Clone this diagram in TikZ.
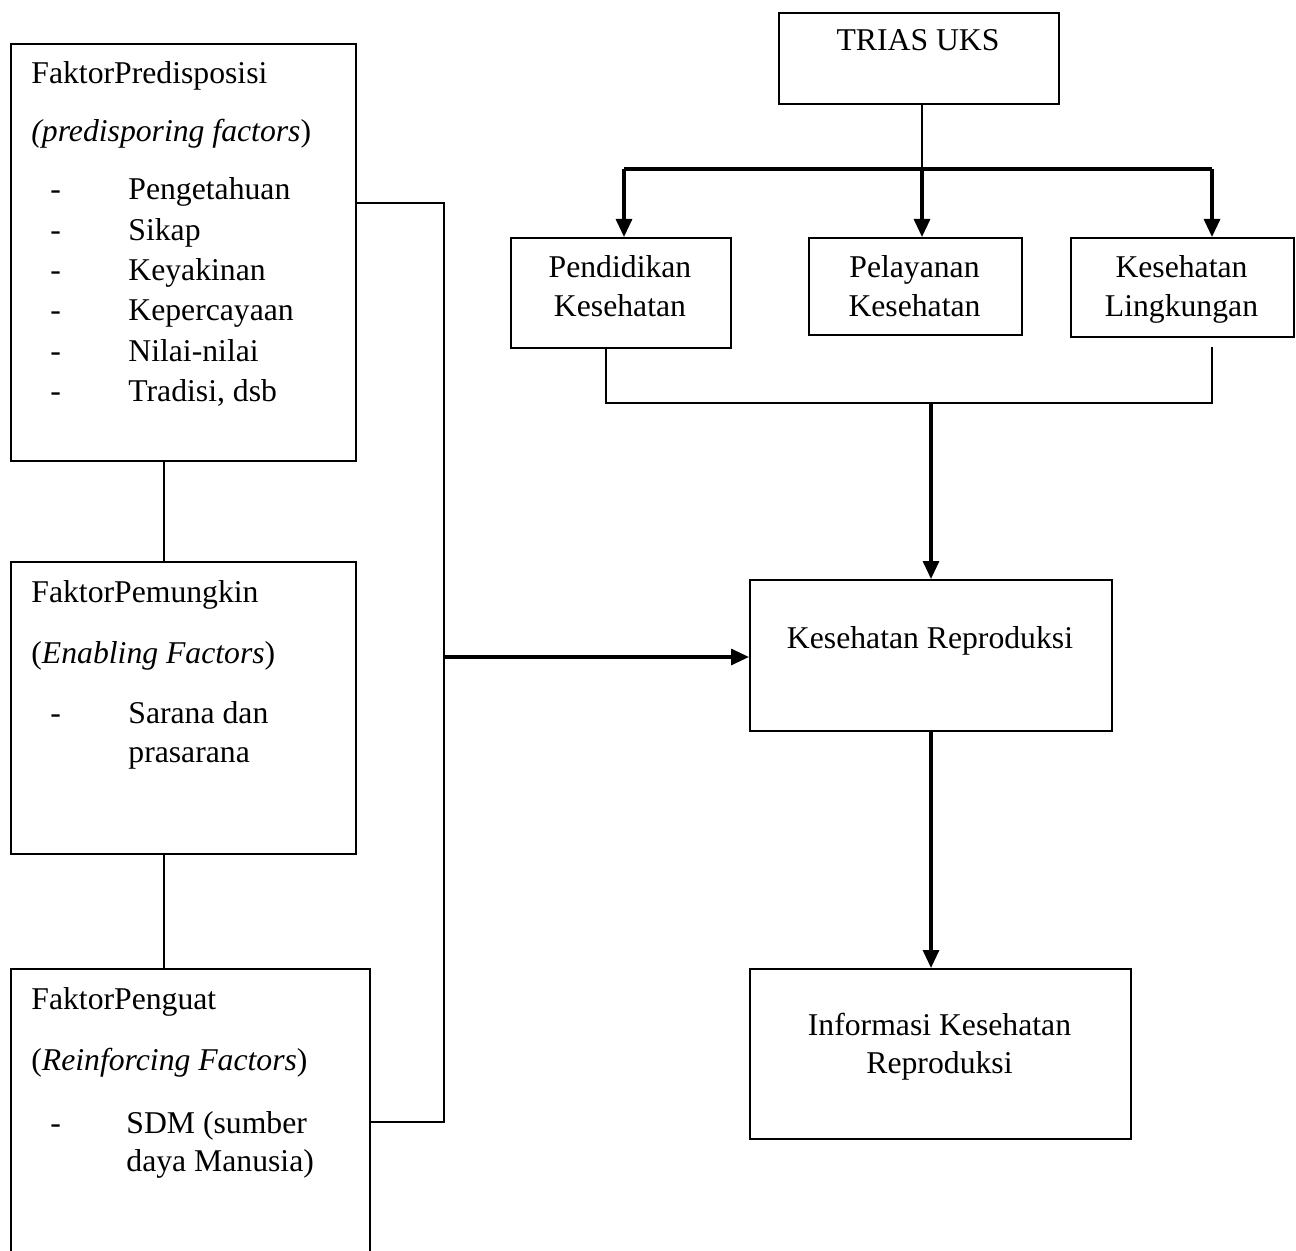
\documentclass[tikz,border=0pt]{standalone}
\usepackage{fontspec}
\setmainfont{Liberation Serif}
\usetikzlibrary{arrows.meta}
\begin{document}
\begin{tikzpicture}[x=0.5pt,y=-0.5pt,
  boxst/.style={draw,line width=1.1pt,anchor=north west,inner sep=0pt},
  txt/.style={inner sep=0pt,anchor=base west,font=\fontsize{15.85}{19}\selectfont},
  ctxt/.style={txt,anchor=base},
  conn/.style={line width=1.1pt},
  thick line/.style={line width=1.6pt},
  arr/.style={line width=1.6pt,-{Triangle[length=9pt,width=8pt]}}]
\clip (0,0) rectangle (1296,1251);
\newcommand\mybox[5]{\node[boxst,minimum width=#4*0.5pt,minimum height=#5*0.5pt] (#1) at (#2,#3) {};}
% boxes
\mybox{p1}{10}{43}{345}{417}
\mybox{p2}{10}{561}{345}{292}
\mybox{p3}{10}{968}{359}{330}
\mybox{trias}{778}{12}{280}{91}
\mybox{pend}{510}{237}{220}{110}
\mybox{pel}{808}{237}{213}{97}
\mybox{ling}{1070}{237}{223}{99}
\mybox{kr}{749}{579}{362}{151}
\mybox{info}{749}{968}{381}{170}
% box 1 text
\node[txt] (p1a) at (31,84) {FaktorPredisposisi};
\node[txt] (p1b) at (31,142) {\textit{(predisporing factors})};
\foreach \t/\y [count=\i] in {Pengetahuan/200,Sikap/241,Keyakinan/281,Kepercayaan/321,Nilai-nilai/362,{Tradisi, dsb}/402}{
  \node[txt] (p1d\i) at (50,\y) {-};
  \node[txt] (p1t\i) at (128,\y) {\t};
}
% box 2 text
\node[txt] (p2a) at (31,602) {FaktorPemungkin};
\node[txt] (p2b) at (31,663) {(\textit{Enabling Factors})};
\node[txt] (p2d) at (50,723) {-};
\node[txt] (p2c) at (128,723) {Sarana dan};
\node[txt] (p2e) at (128,762) {prasarana};
% box 3 text
\node[txt] (p3a) at (31,1009) {FaktorPenguat};
\node[txt] (p3b) at (31,1070) {(\textit{Reinforcing Factors})};
\node[txt] (p3d) at (50,1133) {-};
\node[txt] (p3c) at (126,1133) {SDM (sumber};
\node[txt] (p3e) at (126,1171) {daya Manusia)};
% right side text
\node[ctxt] (tt) at (918,51) {TRIAS UKS};
\node[ctxt] (pe1) at (620,278) {Pendidikan};
\node[ctxt] (pe2) at (620,317) {Kesehatan};
\node[ctxt] (pl1) at (914.5,278) {Pelayanan};
\node[ctxt] (pl2) at (914.5,317) {Kesehatan};
\node[ctxt] (li1) at (1181.5,278) {Kesehatan};
\node[ctxt] (li2) at (1181.5,317) {Lingkungan};
\node[ctxt] (krt) at (930,648) {Kesehatan Reproduksi};
\node[ctxt] (in1) at (939.5,1035) {Informasi Kesehatan};
\node[ctxt] (in2) at (939.5,1073) {Reproduksi};
% left connectors
\coordinate (v1) at (164,0);
\coordinate (j1) at (444,203);
\coordinate (j2) at (444,657);
\coordinate (j3) at (444,1122);
\draw[conn] (p1.south -| v1) -- (p2.north -| v1);
\draw[conn] (p2.south -| v1) -- (p3.north -| v1);
\draw[conn] (p1.east |- j1) -- (j1) -- (j3) -- (p3.east |- j3);
\draw[arr] (j2) -- (kr.west |- j2);
% TRIAS branches
\coordinate (a1) at (624,169);
\coordinate (a2) at (922,169);
\coordinate (a3) at (1212,169);
\draw[conn] (trias.south -| a2) -- (a2);
\draw[thick line] (a1) -- (a3);
\draw[arr] (a1) -- (pend.north -| a1);
\draw[arr] (a2) -- (pel.north -| a2);
\draw[arr] (a3) -- (ling.north -| a3);
% merge to Kesehatan Reproduksi
\coordinate (b1) at (606,403);
\coordinate (b2) at (931,403);
\coordinate (b3) at (1212,403);
\coordinate (b3t) at (1212,347);
\draw[conn] (pend.south -| b1) -- (b1) -- (b3) -- (b3t);
\draw[arr] (b2) -- (kr.north -| b2);
\draw[arr] (kr.south -| b2) -- (info.north -| b2);
\end{tikzpicture}
\end{document}
